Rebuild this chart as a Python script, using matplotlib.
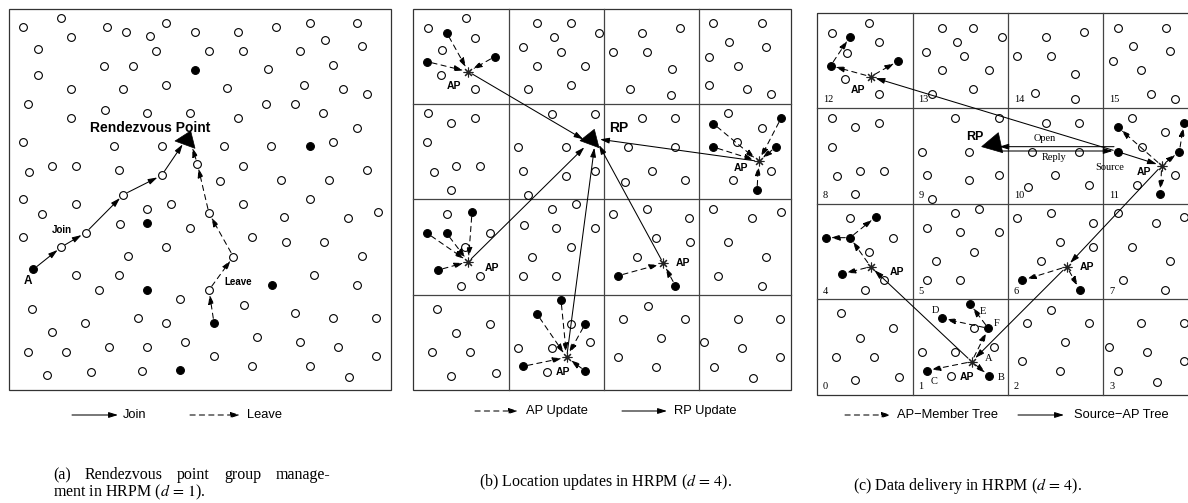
import matplotlib
matplotlib.use("Agg")
import matplotlib.pyplot as plt
from matplotlib.patches import FancyArrowPatch, Polygon, Rectangle

plt.rcParams['font.family'] = ['Liberation Sans', 'DejaVu Sans']
plt.rcParams['mathtext.fontset'] = 'stix'

# ---------------- data (panel units: 3 units = 1 image pixel) ----------------
# Panel (a)
a_open = [(68,82),(183,53),(320,80),(377,95),(449,108),(499,68),(585,97),(713,96),(828,82),(929,68),(1071,68),
          (115,147),(212,110),(469,154),(627,154),(729,154),(899,154),(976,121),(1086,139),
          (113,225),(313,197),(399,197),(804,208),(1000,196),
          (212,268),(370,268),(499,254),(680,265),(913,254),(1028,268),(1100,283),
          (84,311),(316,329),(441,339),(570,339),(714,354),(799,311),(885,311),(970,339),
          (212,354),(1071,383),
          (68,425),(342,439),(485,439),(671,439),(814,439),(1000,425),
          (88,516),(155,497),(228,497),(356,511),(592,491),(729,497),(843,540),(986,540),(1100,511),(659,544),(485,526),
          (68,597),(228,611),(126,641),(370,584),(441,627),(513,613),(627,640),(729,611),(929,597),(853,652),(1043,655),(1133,635),
          (361,673),(570,684),(257,698),
          (68,711),(184,741),(499,741),(757,712),(857,726),(972,726),(385,769),(700,770),(1086,769),
          (228,826),(356,826),(298,869),(627,870),(943,826),(1071,855),
          (97,926),(541,898),(733,915),(885,940),(1000,954),(1128,954),
          (256,969),(413,955),(499,969),
          (155,997),(556,1026),(770,1012),(900,1026),(1014,1040),
          (84,1055),(198,1055),(327,1040),(441,1040),(642,1069),(1128,1068),
          (141,1126),(274,1117),(427,1112),(757,1098),(929,1097),(1046,1131)]
a_filled = [(585,211),(929,439),(441,670),(100,808),(441,870),(816,855),(642,969),(541,1111)]
a_rp = [(525,423),(572,393),(585,445)]
a_join_path = [(100,808),(184,741),(257,698),(370,584),(485,526)]
a_join_end = (548,433)
a_leave_path = [(642,969),(627,870),(700,770),(627,640),(592,491)]
a_leave_end = (577,443)
a_texts = [("Rendezvous Point", 270, 385, 10), ("Join", 155, 690, 7), ("A", 70, 843, 8.5), ("Leave", 672, 845, 7)]

# Panel (b)
b_box = (40, 28, 1172, 1170)
b_vgrid = [326, 612, 898]
b_hgrid = [312, 598, 886]
b_open = [(83,85),(198,55),(226,113),(127,150),(124,226),(226,268),
          (411,70),(512,70),(597,98),(462,112),(369,142),(483,155),(411,197),(554,198),(383,268),(512,256),
          (726,98),(840,84),(640,155),(740,155),(816,208),(690,268),(813,284),
          (940,70),(1085,70),(987,125),(1099,141),(927,170),(1014,197),(927,255),(1042,268),(1113,283),
          (83,340),(153,370),(226,354),(82,427),(169,498),(240,498),(101,517),(153,571),
          (455,341),(584,341),(354,441),(498,441),(369,513),(498,528),(584,513),(383,584),
          (726,355),(826,355),(683,441),(826,441),(755,513),(675,546),(855,541),
          (985,340),(1085,384),(1012,425),(1113,513),(998,541),
          (141,641),(269,700),(196,741),(241,827),(182,857),
          (455,626),(527,613),(371,675),(469,684),(584,684),(512,741),(397,771),(369,827),(469,827),
          (640,641),(741,626),(866,655),(769,713),(870,727),(712,770),
          (940,627),(1143,637),(1055,655),(985,727),(1099,770),(955,827),(1085,857),
          (111,927),(269,972),(169,1000),(97,1057),(211,1057),(153,1129),(287,1119),
          (512,971),(570,1027),(354,1043),(455,1043),(441,1115),
          (745,918),(669,957),(855,957),(784,1014),(655,1072),(769,1100),
          (1014,957),(1141,957),(913,1027),(1027,1043),(1141,1072),(941,1100),(1060,1133)]
b_stars = [(205,215),(1076,484),(205,785),(790,790),(500,1072)]
b_members = [[(140,98),(82,185),(284,170)],
             [(940,371),(940,441),(1143,355),(1127,441),(1071,571)],
             [(216,637),(82,700),(140,700),(115,810)],
             [(655,827),(826,857)],
             [(483,900),(411,942),(556,971),(369,1099),(556,1113)]]
b_rp_targets = [(550,418),(600,418),(553,442),(597,435),(583,443)]
b_rp = [(540,422),(583,388),(597,443)]
b_ap_labels = [(140,258),(1000,505),(255,803),(828,790),(468,1117)]
b_rp_label = (627,385)

# Panel (c)
c_box = (50, 40, 1196, 1185)
c_vgrid = [338, 624, 910]
c_hgrid = [325, 612, 898]
c_cell_ids = [["12","13","14","15"],["8","9","10","11"],["4","5","6","7"],["0","1","2","3"]]
c_id_x = [68, 355, 641, 928]
c_id_y = [300, 587, 875, 1160]
c_open = [(95,98),(207,68),(237,125),(140,160),(136,238),(237,283),
          (425,83),(520,83),(607,111),(470,125),(379,155),(493,168),(425,211),(567,211),(520,268),(395,283),
          (738,111),(853,97),(652,168),(752,168),(826,222),(705,280),(826,297),
          (953,83),(1098,83),(1000,137),(1110,154),(938,183),(1024,211),(1053,283),(1126,297),
          (95,355),(166,382),(237,368),(95,441),(180,512),(251,512),(112,527),(166,583),
          (466,355),(596,355),(366,455),(508,455),(380,526),(508,540),(596,526),(395,597),
          (738,368),(838,368),(696,455),(838,455),(766,526),(685,560),(866,554),
          (997,354),(1096,397),(1025,440),(1126,526),(1010,554),
          (150,655),(278,713),(207,755),(251,841),(194,870),
          (466,640),(538,626),(380,685),(480,697),(596,697),(522,755),(408,783),(380,841),(480,841),
          (652,655),(752,640),(878,668),(780,727),(880,741),(722,783),
          (953,640),(1152,652),(1068,668),(995,741),(1110,784),(968,841),(1096,870),
          (122,940),(280,985),(180,1013),(108,1070),(222,1070),(166,1140),(298,1130),
          (366,1055),(466,1055),(582,1042),(522,985),(452,1128),
          (752,930),(680,970),(868,970),(795,1027),(666,1084),(780,1112),
          (1024,970),(1152,970),(926,1040),(1040,1055),(1152,1084),(953,1112),(1070,1145)]
c_filled = [(150,110),(92,197),(295,183),(953,381),(953,455),(1152,368),(1138,455),(1081,583),
            (228,650),(78,713),(150,713),(125,822),(667,841),(840,870),
            (510,912),(425,955),(565,985),(380,1112),(567,1127)]
c_stars = [(212,230),(1085,497),(212,800),(800,800),(515,1085)]
c_member_edges = [((212,230),(92,197)),((92,197),(150,110)),((212,230),(295,183)),
                  ((1085,497),(953,381)),((1085,497),(1138,455)),((1138,455),(1152,368)),((1085,497),(1081,583)),
                  ((212,800),(150,713)),((150,713),(78,713)),((150,713),(228,650)),((212,800),(125,822)),
                  ((800,800),(667,841)),((800,800),(840,870)),
                  ((515,1085),(565,985)),((565,985),(425,955)),((565,985),(510,912)),
                  ((515,1085),(380,1112)),((515,1085),(567,1127))]
c_source_edges = [((953,455),(1085,497)),((953,455),(212,230)),((1085,497),(800,800)),
                  ((800,800),(515,1085)),((515,1085),(212,800))]
c_open_line = ((942,440),(598,440))
c_reply_line = ((606,453),(938,453))
c_rp = [(545,440),(595,398),(608,458)]
c_ap_labels = [(153,270),(1010,517),(268,815),(838,800),(480,1132)]
c_rp_label = (497,410)
c_serif_labels = [("Open",733,415),("Reply",763,472),("Source",928,503),
                  ("D",405,930),("E",548,933),("F",590,970),("A",565,1075),("B",605,1132),("C",402,1145)]

# legends / captions (image pixels)
legend_a = [("-", 72, 118, 415, "Join"), ("--", 190, 240, 415, "Leave")]
legend_b = [("--", 475, 518, 411, "AP Update"), ("-", 622, 667, 411, "RP Update")]
legend_c = [("--", 845, 891, 415, "AP\u2212Member Tree"), ("-", 1018, 1064, 415, "Source\u2212AP Tree")]
legend_text_x = {"Join": 123, "Leave": 247, "AP Update": 526, "RP Update": 674,
                 "AP\u2212Member Tree": 897, "Source\u2212AP Tree": 1074}
caption_a1 = ["(a)", "Rendezvous", "point", "group", "manage-"]
caption_a2 = r"ment in HRPM ($d\,=\,1$)."
caption_b = r"(b) Location updates in HRPM ($d\,=\,4$)."
caption_c = r"(c) Data delivery in HRPM ($d\,=\,4$)."

# ---------------- drawing ----------------
W, H = 1188, 503
fig = plt.figure(figsize=(W / 100, H / 100), dpi=100)
bg = fig.add_axes([0, 0, 1, 1])
bg.set_xlim(0, W); bg.set_ylim(H, 0); bg.axis('off')

LW = 0.75
CIRC_R = 3.4   # points
STAR_R = 3.6


def panel_axes(x0, wpx):
    ax = fig.add_axes([x0 / W, (H - 400) / H, wpx / W, 400 / H])
    ax.set_xlim(0, wpx * 3); ax.set_ylim(1200, 0); ax.axis('off')
    return ax


def arrow(ax, p, q, dashed=False, sA=0.0, sB=0.0, head=True, lw=LW, z=4):
    style = '-|>,head_length=5.5,head_width=1.7' if head else '-'
    ls = (0, (5, 4)) if dashed else '-'
    pa = FancyArrowPatch(p, q, arrowstyle=style, mutation_scale=1, shrinkA=sA, shrinkB=sB,
                         lw=lw, color='black', linestyle=ls, zorder=z)
    ax.add_patch(pa)


def circles(ax, pts, filled):
    xs = [p[0] for p in pts]; ys = [p[1] for p in pts]
    ax.plot(xs, ys, 'o', ls='none', ms=5.6, mew=0.8, mec='black',
            mfc='black' if filled else 'white', zorder=3)


def stars(ax, pts):
    xs = [p[0] for p in pts]; ys = [p[1] for p in pts]
    ax.plot(xs, ys, ls='none', marker=(8, 2, 0), ms=7, mew=0.8, color='#222222', zorder=5)


def box(ax, b, vg, hg):
    x0, y0, x1, y1 = b
    ax.add_patch(Rectangle((x0, y0), x1 - x0, y1 - y0, fill=False, lw=0.9, ec='#333333', zorder=1))
    for v in vg:
        ax.plot([v, v], [y0, y1], color='#444444', lw=0.9, zorder=1)
    for h in hg:
        ax.plot([x0, x1], [h, h], color='#444444', lw=0.9, zorder=1)


# ---- panel (a)
axa = panel_axes(0, 400)
box(axa, (27, 27, 1172, 1170), [], [])
circles(axa, a_open, False)
circles(axa, a_filled, True)
axa.add_patch(Polygon(a_rp, closed=True, fc='black', ec='black', lw=0.5, zorder=6))
for path, end, dashed in [(a_join_path, a_join_end, False), (a_leave_path, a_leave_end, True)]:
    pts = path + [end]
    for i in range(len(pts) - 1):
        last = (i == len(pts) - 2)
        arrow(axa, pts[i], pts[i + 1], dashed=dashed, sA=CIRC_R, sB=0 if last else CIRC_R)
for t, x, y, fs in a_texts:
    axa.text(x, y, t, fontsize=fs, fontweight='bold', ha='left', va='center', zorder=7)

# ---- panel (b)
axb = panel_axes(400, 400)
box(axb, b_box, b_vgrid, b_hgrid)
circles(axb, b_open, False)
for s, mem in zip(b_stars, b_members):
    circles(axb, mem, True)
    for m in mem:
        arrow(axb, m, s, dashed=True, sA=CIRC_R, sB=STAR_R)
for s, t in zip(b_stars, b_rp_targets):
    arrow(axb, s, t, sA=3.0, sB=0)
stars(axb, b_stars)
axb.add_patch(Polygon(b_rp, closed=True, fc='black', ec='black', lw=0.5, zorder=6))
for x, y in b_ap_labels:
    axb.text(x, y, "AP", fontsize=7.5, fontweight='bold', ha='left', va='center', zorder=7)
axb.text(b_rp_label[0], b_rp_label[1], "RP", fontsize=10, fontweight='bold', ha='left', va='center', zorder=7)

# ---- panel (c)
axc = panel_axes(800, 388)
axc.set_xlim(0, 1164)
box(axc, c_box, c_vgrid, c_hgrid)
circles(axc, c_open, False)
circles(axc, c_filled, True)
star_set = set(c_stars)
for p, q in c_member_edges:
    arrow(axc, p, q, dashed=True, sA=STAR_R if p in star_set else CIRC_R,
          sB=STAR_R if q in star_set else CIRC_R)
for p, q in c_source_edges:
    arrow(axc, p, q, sA=STAR_R if p in star_set else CIRC_R,
          sB=STAR_R if q in star_set else CIRC_R)
arrow(axc, c_open_line[0], c_open_line[1], sA=0, sB=0)
arrow(axc, c_reply_line[0], c_reply_line[1], sA=0, sB=0)
stars(axc, c_stars)
axc.add_patch(Polygon(c_rp, closed=True, fc='black', ec='black', lw=0.5, zorder=6))
for x, y in c_ap_labels:
    axc.text(x, y, "AP", fontsize=7.5, fontweight='bold', ha='left', va='center', zorder=7)
axc.text(c_rp_label[0], c_rp_label[1], "RP", fontsize=9, fontweight='bold', ha='left', va='center', zorder=7)
for t, x, y in c_serif_labels:
    axc.text(x, y, t, fontsize=7.5, family='Liberation Serif', ha='center', va='center', zorder=7)
for r, row in enumerate(c_cell_ids):
    for k, lab in enumerate(row):
        axc.text(c_id_x[k], c_id_y[r], lab, fontsize=7.5, family='Liberation Serif',
                 ha='left', va='center', zorder=7)

# ---- legends
for leg in (legend_a, legend_b, legend_c):
    for kind, x0, x1, y, lab in leg:
        arrow(bg, (x0, y), (x1, y), dashed=(kind == "--"))
        bg.text(legend_text_x[lab], y, lab, fontsize=9.3, ha='left', va='center')

# ---- captions
CFS = 11.5
serif = 'Liberation Serif'
bg.text(606, 482, caption_b, fontsize=CFS, family=serif, ha='center', va='center')
bg.text(968, 486, caption_c, fontsize=CFS, family=serif, ha='center', va='center')
bg.text(53, 492, caption_a2, fontsize=CFS, family=serif, ha='left', va='center')
renderer = fig.canvas.get_renderer()
word_objs = [bg.text(0, 475, w, fontsize=CFS, family=serif, ha='left', va='center') for w in caption_a1]
widths = [t.get_window_extent(renderer).width for t in word_objs]
x_left, x_right = 53, 330
gap = max((x_right - x_left - sum(widths)) / (len(widths) - 1), 4)
x = x_left
for t, w in zip(word_objs, widths):
    t.set_x(x)
    x += w + gap

fig.savefig("out.png", dpi=100)
